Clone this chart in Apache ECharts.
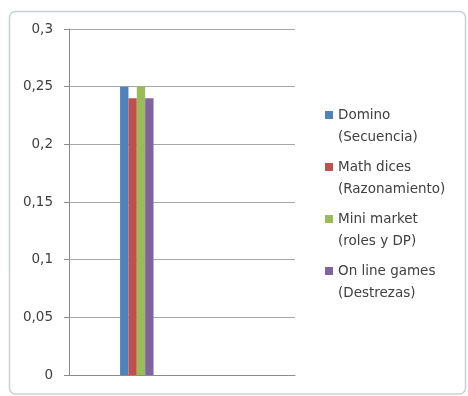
<!DOCTYPE html>
<html>
<head>
<meta charset="utf-8">
<script src="https://cdn.jsdelivr.net/npm/echarts@6/dist/echarts.min.js"></script>
<style>
  html, body { margin: 0; padding: 0; background: #fff; }
  #chart { width: 468px; height: 396px; }
</style>
</head>
<body>
<div id="chart"></div>
<script>
// Five unlabeled category slots; only the second one holds values
const categories = ['1', '2', '3', '4', '5'];

const seriesNames = [
  'Domino\n(Secuencia)',
  'Math dices\n(Razonamiento)',
  'Mini market\n(roles y DP)',
  'On line games\n(Destrezas)'
];
const domino      = [null, 0.25, null, null, null];
const mathDices   = [null, 0.24, null, null, null];
const miniMarket  = [null, 0.25, null, null, null];
const onlineGames = [null, 0.24, null, null, null];

const yTicks = { min: 0, max: 0.3, interval: 0.05 };

const colors = ['#4F81BD', '#C0504D', '#9BBB59', '#8064A2'];
const values = [domino, mathDices, miniMarket, onlineGames];

const chart = echarts.init(document.getElementById('chart'));

chart.setOption({
  animation: false,
  color: colors,
  textStyle: { fontFamily: '"DejaVu Sans", sans-serif' },
  graphic: [{
    type: 'rect',
    shape: { x: 9.5, y: 11.5, width: 456, height: 382.5, r: 6 },
    style: { fill: 'none', stroke: '#c8d2d2', lineWidth: 1.5 },
    silent: true,
    z: -1
  }],
  grid: { left: 69, right: 173, top: 29, bottom: 21 },
  legend: {
    orient: 'vertical',
    left: 325,
    top: 82,
    padding: 0,
    itemWidth: 8,
    itemHeight: 8,
    itemGap: -14,
    icon: 'rect',
    // leading blank line keeps the marker level with the first text line
    formatter: name => '\n' + name,
    textStyle: {
      fontSize: 13.5,
      color: '#404040',
      lineHeight: 22
    }
  },
  xAxis: {
    type: 'category',
    data: categories,
    axisLine: { lineStyle: { color: '#8c8c8c', width: 1 } },
    axisTick: { length: 4, lineStyle: { color: '#8c8c8c' } },
    axisLabel: { show: false },
    splitLine: { show: false }
  },
  yAxis: {
    type: 'value',
    min: yTicks.min,
    max: yTicks.max,
    interval: yTicks.interval,
    axisLine: { show: true, lineStyle: { color: '#8c8c8c', width: 1 } },
    axisTick: { show: true, length: 5, lineStyle: { color: '#8c8c8c' } },
    axisLabel: {
      margin: 16,
      fontSize: 13.5,
      color: '#404040',
      formatter: v => String(parseFloat(v.toFixed(2))).replace('.', ',')
    },
    splitLine: { lineStyle: { color: '#a6a6a6', width: 1.2 } }
  },
  series: seriesNames.map((name, i) => ({
    name,
    type: 'bar',
    data: values[i],
    barGap: '0%',
    barCategoryGap: '26%'
  }))
});
</script>
</body>
</html>
